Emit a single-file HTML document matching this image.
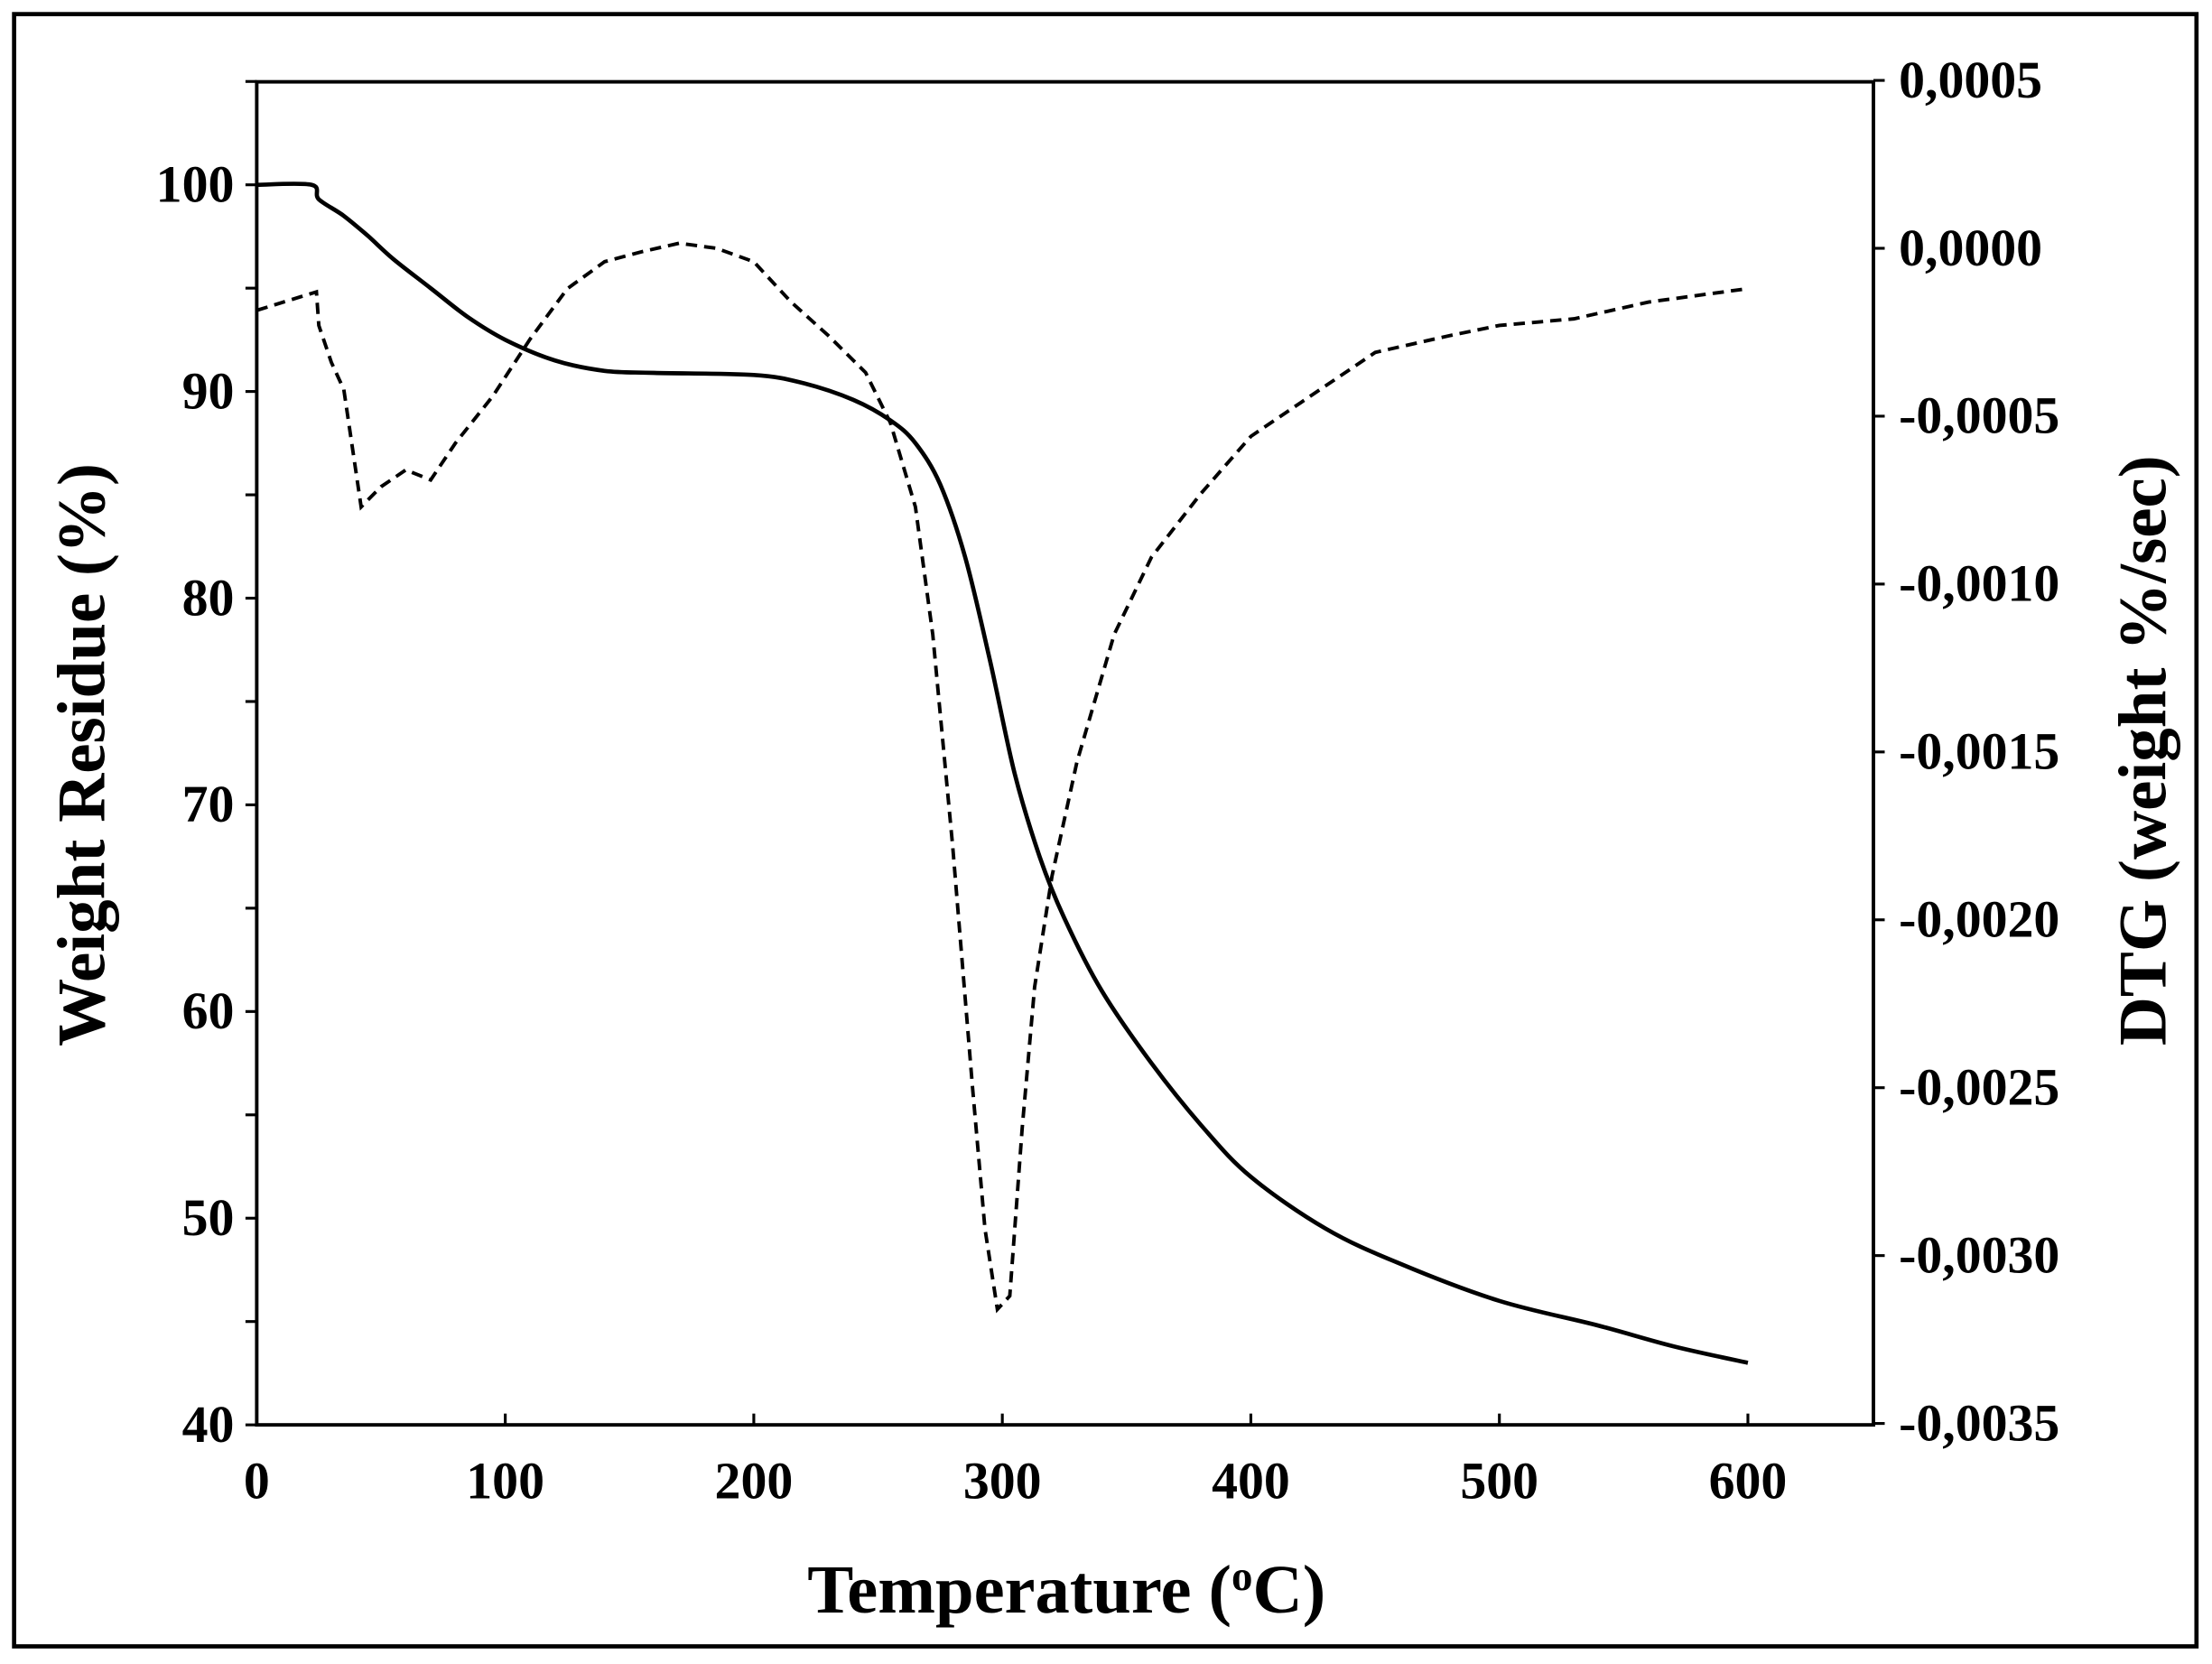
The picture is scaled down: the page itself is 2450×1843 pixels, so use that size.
<!DOCTYPE html>
<html><head><meta charset="utf-8"><style>
html,body{margin:0;padding:0;background:#fff}
svg{display:block}
text{font-family:"Liberation Serif",serif;font-weight:bold;fill:#000}
</style></head><body>
<svg id="chart" width="2450" height="1843" viewBox="0 0 1568 1179.5" preserveAspectRatio="none" xmlns="http://www.w3.org/2000/svg">
<rect x="10" y="10" width="1547" height="1157" fill="none" stroke="#000" stroke-width="3"/>
<rect x="182" y="58" width="1146" height="952" fill="none" stroke="#000" stroke-width="2.5"/>
<g id="axes"></g>
<path id="tg" fill="none" stroke="#000" stroke-width="3"/>
<path id="dtg" fill="none" stroke="#000" stroke-width="2.5" stroke-dasharray="8,5"/>
<text x="756" y="1143" font-size="49" text-anchor="middle">Temperature (<tspan font-size="30" dy="-16">o</tspan><tspan dy="16">C)</tspan></text>
<text transform="translate(74,535) rotate(-90)" font-size="48" text-anchor="middle">Weight Residue (%)</text>
<text transform="translate(1535,532) rotate(-90)" font-size="48" text-anchor="middle">DTG (weight %/sec)</text>
</svg>
<script>
const tgTemps=[0,22,25,35,45,55,70,85,100,120,140,160,200,220,240,255,265,275,285,295,305,315,325,340,360,380,400,430,460,500,540,570,600];
const tgValues=[100,100,99.3,98.5,97.5,96.4,95,93.6,92.5,91.5,91,90.9,90.8,90.4,89.6,88.6,87.5,85.5,82,77,71.5,67.5,64.5,61,57.5,54.5,52,49.5,47.8,46,44.8,43.8,43];
const dtgTemps=[0,24,25,30,35,42,50,60,70,80,95,110,125,140,155,170,185,200,215,230,245,255,265,272,280,288,293,298,303,308,313,320,330,345,360,380,400,420,450,480,500,530,560,600];
const dtgValues=[-1.85,-1.3,-2.3,-3.4,-4.2,-7.7,-7.1,-6.6,-6.9,-5.8,-4.4,-2.7,-1.2,-0.4,-0.1,0.15,0,-0.4,-1.6,-2.6,-3.7,-5.2,-7.7,-11.5,-17.8,-25,-29.2,-31.6,-31.2,-26.2,-22,-18.7,-15.3,-11.5,-9.2,-7.3,-5.6,-4.6,-3.1,-2.6,-2.3,-2.1,-1.6,-1.2];
const xTicks=[0,100,200,300,400,500,600];
const yLeftTicks=[40,50,60,70,80,90,100];
const yRightTicks=[5,0,-5,-10,-15,-20,-25,-30,-35];
const yRightLabels=["0,0005","0,0000","-0,0005","-0,0010","-0,0015","-0,0020","-0,0025","-0,0030","-0,0035"];
const X=t=>182+t*1.7617;
const YL=v=>1010-(v-40)*14.65;
const YR=v=>176-v*23.8;
const NS="http://www.w3.org/2000/svg";
const ax=document.getElementById('axes');
function mk(tag,attrs,txt){const e=document.createElementNS(NS,tag);for(const k in attrs)e.setAttribute(k,attrs[k]);if(txt!==undefined)e.textContent=txt;ax.appendChild(e);return e;}
xTicks.forEach(t=>{
  const l=mk('line',{x1:X(t),x2:X(t),y1:1010,y2:1002,stroke:'#000','stroke-width':2});
  
  
  const e=mk('text',{x:X(t),y:1062,'font-size':37,'text-anchor':'middle'},String(t));
  
  
});
for(let v=40;v<=105;v+=5){
  const l=mk('line',{x1:174,x2:182,y1:YL(v),y2:YL(v),stroke:'#000','stroke-width':2});
  
  
}
yLeftTicks.forEach(v=>{
  const e=mk('text',{x:166,y:YL(v)+12,'font-size':37,'text-anchor':'end'},String(v));
  
  
});
yRightTicks.forEach((v,i)=>{
  const l=mk('line',{x1:1328,x2:1336,y1:YR(v),y2:YR(v),stroke:'#000','stroke-width':2});
  
  
  const e=mk('text',{x:1346,y:YR(v)+12,'font-size':37,'text-anchor':'start'},yRightLabels[i]);
  
  
});
function smooth(pts){
  let d='M'+pts[0][0].toFixed(1)+','+pts[0][1].toFixed(1);
  for(let i=0;i<pts.length-1;i++){
    const p0=pts[Math.max(0,i-1)],p1=pts[i],p2=pts[i+1],p3=pts[Math.min(pts.length-1,i+2)];
    const c1=[p1[0]+(p2[0]-p0[0])/6,p1[1]+(p2[1]-p0[1])/6];
    const c2=[p2[0]-(p3[0]-p1[0])/6,p2[1]-(p3[1]-p1[1])/6];
    d+=' C'+c1[0].toFixed(1)+','+c1[1].toFixed(1)+' '+c2[0].toFixed(1)+','+c2[1].toFixed(1)+' '+p2[0].toFixed(1)+','+p2[1].toFixed(1);
  }
  return d;
}
document.getElementById('tg').setAttribute('d',smooth(tgTemps.map((t,i)=>[X(t),YL(tgValues[i])])));
document.getElementById('dtg').setAttribute('d',dtgTemps.map((t,i)=>(i?'L':'M')+X(t).toFixed(1)+','+YR(dtgValues[i]).toFixed(1)).join(' '));
</script>
</body></html>
